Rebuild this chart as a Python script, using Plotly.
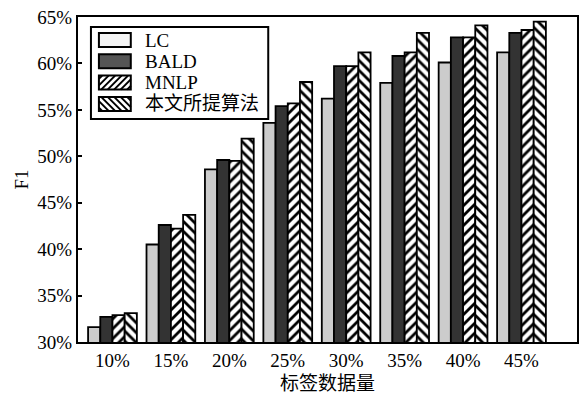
import plotly.graph_objects as go

# labelled-data fractions on the x axis
categories = ["10%", "15%", "20%", "25%", "30%", "35%", "40%", "45%"]

# F1 scores (%) for each active-learning strategy
f1_lc = [31.6, 40.5, 48.6, 53.6, 56.2, 57.9, 60.1, 61.2]
f1_bald = [32.7, 42.6, 49.6, 55.4, 59.7, 60.8, 62.8, 63.3]
f1_mnlp = [32.9, 42.2, 49.5, 55.7, 59.7, 61.2, 62.8, 63.6]
f1_ours = [33.1, 43.7, 51.9, 58.0, 61.2, 63.3, 64.1, 64.5]

series_names = ["LC", "BALD", "MNLP", "本文所提算法"]

FONT = "Liberation Serif, Times New Roman, Noto Sans CJK SC, serif"
W, H = 580, 394
ML, MR, MT, MB = 78, 1, 17, 52
PW, PH = W - ML - MR, H - MT - MB

styles = [
    dict(color="#cccccc", hatch=""),
    dict(color="#333333", hatch=""),
    dict(color="white", hatch="/"),
    dict(color="white", hatch="\\"),
]

fig = go.Figure()
for name, vals, st in zip(series_names, [f1_lc, f1_bald, f1_mnlp, f1_ours], styles):
    pattern = dict(shape="")
    if st["hatch"]:
        pattern = dict(shape=st["hatch"], fgcolor="black", bgcolor="white",
                       size=7, solidity=0.4, fillmode="replace")
    fig.add_trace(go.Bar(
        x=categories, y=vals, name=name,
        marker_color=st["color"], marker_pattern=pattern,
        marker_line=dict(color="black", width=1.8),
    ))


# ---- boxed legend with wide hatched swatches, drawn in paper space ----
def px(x):
    return (x - ML) / PW


def py(y):
    return (H - MB - y) / PH


shapes, annotations = [], []
box = (91, 27, 269, 119)
shapes.append(dict(type="rect", xref="paper", yref="paper",
                   x0=px(box[0]), x1=px(box[2]), y0=py(box[3]), y1=py(box[1]),
                   fillcolor="white", line=dict(color="black", width=2)))

sw_x0, sw_w, sw_h, row0, pitch = 99, 32, 14, 33, 21.3
legend_fill = ["#f4f4f4", "#555555", "white", "white"]
for i, (name, st) in enumerate(zip(series_names, styles)):
    y0 = row0 + i * pitch
    x0 = sw_x0
    shapes.append(dict(type="rect", xref="paper", yref="paper",
                       x0=px(x0), x1=px(x0 + sw_w), y0=py(y0 + sw_h), y1=py(y0),
                       fillcolor=legend_fill[i], line=dict(color="black", width=2)))
    if st["hatch"]:
        step = 6.5
        segs = []
        c = -sw_h if st["hatch"] == "/" else 0.0
        c_end = sw_w if st["hatch"] == "/" else sw_w + sw_h
        c += step / 2
        while c < c_end:
            if st["hatch"] == "/":
                ua, ub = max(0, c), min(sw_w, c + sw_h)
                pts = [(ua, ua - c), (ub, ub - c)]
            else:
                ua, ub = max(0, c - sw_h), min(sw_w, c)
                pts = [(ua, c - ua), (ub, c - ub)]
            (u1, v1), (u2, v2) = pts
            segs.append(f"M{px(x0 + u1)},{py(y0 + sw_h - v1)} "
                        f"L{px(x0 + u2)},{py(y0 + sw_h - v2)}")
            c += step
        shapes.append(dict(type="path", xref="paper", yref="paper",
                           path=" ".join(segs), line=dict(color="black", width=2)))
    annotations.append(dict(x=px(143), y=py(y0 + sw_h / 2), xref="paper", yref="paper",
                            text=name, showarrow=False, xanchor="left", yanchor="middle",
                            font=dict(family=FONT, size=19, color="black")))

fig.update_layout(
    width=W, height=H,
    margin=dict(l=ML, r=MR, t=MT, b=MB),
    paper_bgcolor="white", plot_bgcolor="white",
    barmode="group", bargap=0.165, bargroupgap=0,
    font=dict(family=FONT, size=19, color="black"),
    showlegend=False,
    shapes=shapes, annotations=annotations,
    xaxis=dict(
        type="category", range=[-0.59, 7.95],
        showline=True, linecolor="black", linewidth=2, mirror=True,
        ticks="", showgrid=False,
        tickfont=dict(family=FONT, size=19),
        title=dict(text="标签数据量", font=dict(family=FONT, size=19), standoff=9),
    ),
    yaxis=dict(
        range=[30, 65], dtick=5, ticksuffix="%",
        showline=True, linecolor="black", linewidth=2, mirror=True,
        ticks="inside", ticklen=4, tickwidth=1.5, tickcolor="black",
        showgrid=False, zeroline=False,
        tickfont=dict(family=FONT, size=19),
        title=dict(text="F1", font=dict(family=FONT, size=19), standoff=4),
    ),
)

fig.write_html("out.html")
